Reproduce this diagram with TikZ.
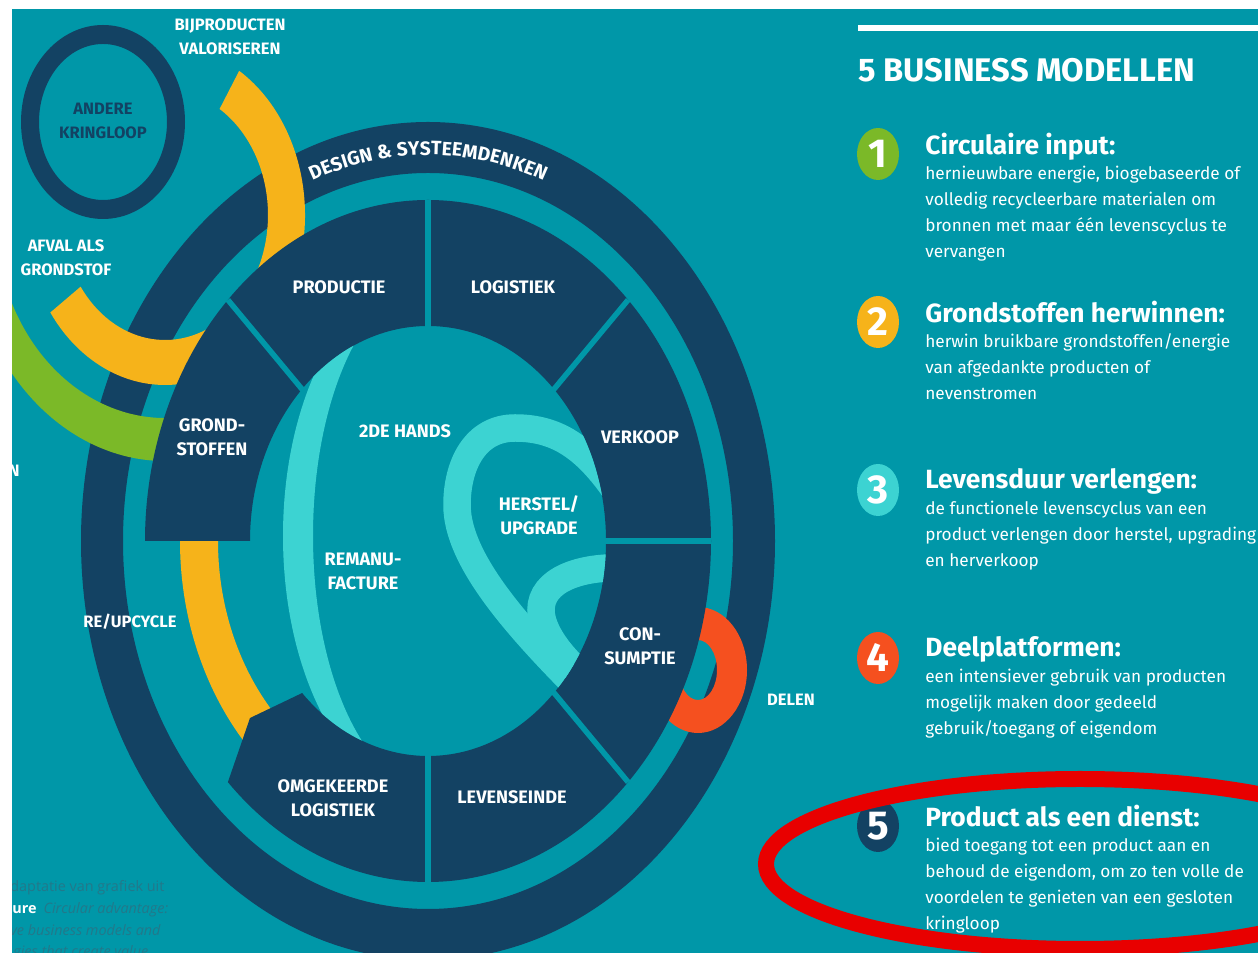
\documentclass[tikz,border=0pt]{standalone}
\usepackage{fontspec}
\setmainfont{Fira Sans}
\newfontfamily\notefont{Open Sans}
\usetikzlibrary{shapes.geometric,calc,decorations.text}
\definecolor{bgteal}{HTML}{0097A8}
\definecolor{navy}{HTML}{134263}
\definecolor{sun}{HTML}{F6B31A}
\definecolor{leaf}{HTML}{7BB928}
\definecolor{aqua}{HTML}{3CD3D2}
\definecolor{flame}{HTML}{F5501F}
\definecolor{marker}{HTML}{E80000}
\definecolor{faded}{HTML}{23788A}

\begin{document}
\begin{tikzpicture}
	[x=0.02cm,y=0.02cm,
	every node/.style={inner sep=0pt,text=white},
	seglabel/.style={font=\fontsize{10.3}{13.6}\selectfont\bfseries,align=center},
	outlabel/.style={font=\fontsize{9.4}{13.6}\selectfont\bfseries,align=center},
	badge/.style={ellipse,minimum width=0.84cm,minimum height=1.04cm,font=\fontsize{23}{23}\selectfont\bfseries},
	item/.style={anchor=north west,align=left,font=\fontsize{9.8}{14.7}\selectfont},
	note/.style={anchor=base west,text=faded,font=\notefont\fontsize{8.2}{9}\selectfont},
	gap/.style={draw=bgteal,line width=0.11cm},
	band/.style={draw=aqua,line width=0.55cm}]
	\useasboundingbox (0,0) rectangle (1258,953);
	\fill[bgteal] (0,0) rectangle (1258,953);
	\coordinate (C) at (428,412);
	\coordinate (G) at (165,738);
	\coordinate (K) at (103,831);
	\coordinate (D) at (698,283);

	\fill[navy,even odd rule] (C) ellipse[x radius=347,y radius=419] (C) ellipse[x radius=305,y radius=368];
	\fill[navy,even odd rule] (K) ellipse[x radius=82,y radius=97] (K) ellipse[x radius=64,y radius=78];
	\fill[leaf] ($(G)+(-155:200 and 246)$) arc[start angle=-155,end angle=-70,x radius=200,y radius=246]
		-- ($(G)+(-70:170 and 203)$) arc[start angle=-70,end angle=-155,x radius=170,y radius=203] -- cycle;
	\fill[sun] ($(G)+(58:140 and 170)$) arc[start angle=58,end angle=-145,x radius=140,y radius=170]
		-- ($(G)+(-145:103 and 125)$) arc[start angle=-145,end angle=58,x radius=103,y radius=125] -- cycle;
	\fill[flame,even odd rule] (D) ellipse[x radius=49,y radius=63] (D) ellipse[x radius=19,y radius=30];
	\fill[sun] ($(C)+(179:248 and 299)$) arc[start angle=179,end angle=232,x radius=248,y radius=299]
		-- ($(C)+(232:210 and 253)$) arc[start angle=232,end angle=179,x radius=210,y radius=253] -- cycle;
	\fill[navy] ($(C)+(-135:283 and 341)$) arc[start angle=-135,end angle=180,x radius=283,y radius=341]
		-- ($(C)+(180:178 and 215)$) arc[start angle=180,end angle=-135,x radius=178,y radius=215] -- (250,235) -- cycle;
	\foreach \a in {135,90,45,0,-45,-90}
		\draw[gap] (C) -- ++(\a:283 and 341);

	\begin{scope}
		\clip (C) ellipse[x radius=178,y radius=215];
		\begin{scope}
			\clip (0,0) rectangle (430,953);
			\fill[aqua,even odd rule] (430,417) ellipse[x radius=147,y radius=262] (434,417) ellipse[x radius=121,y radius=255];
		\end{scope}
		\draw[band] (625,448) .. controls (590,503) and (560,525) .. (515,525) .. controls (475,525) and (457,488) .. (457,448) .. controls (457,388) and (530,313) .. (595,248);
		\draw[band] (625,385) .. controls (580,387) and (541,373) .. (541,343) .. controls (541,323) and (560,295) .. (590,272);
	\end{scope}

	\path[decorate,decoration={text along path,text align=center,
		text={|\fontsize{11}{12}\selectfont\bfseries\color{white}|DESIGN {\&} SYSTEEMDENKEN}}]
		($(C)+(125:320 and 386)$) arc[start angle=125,end angle=55,x radius=320,y radius=386];

	\node[seglabel] (prod) at (339,666) {PRODUCTIE};
	\node[seglabel] (logi) at (513,666) {LOGISTIEK};
	\node[seglabel] (verk) at (640,516) {VERKOOP};
	\node[seglabel] (cons) at (640,307) {CON-\\SUMPTIE};
	\node[seglabel] (leven) at (512,156) {LEVENSEINDE};
	\node[seglabel] (omgek) at (333,155) {OMGEKEERDE\\LOGISTIEK};
	\node[seglabel] (grond) at (212,516) {GROND-\\STOFFEN};
	\node[seglabel] (hands) at (405,522) {2DE HANDS};
	\node[seglabel] (remanu) at (363,382) {REMANU-\\FACTURE};
	\node[seglabel] (herstel) at (539,438) {HERSTEL/\\UPGRADE};

	\node[outlabel] (bijprod) at (230,916) {BIJPRODUCTEN\\VALORISEREN};
	\node[outlabel,text=navy] (andere) at (103,832) {ANDERE\\KRINGLOOP};
	\node[outlabel] (afval) at (66,695) {AFVAL ALS\\GRONDSTOF};
	\node[outlabel] (reup) at (130,331) {RE/UPCYCLE};
	\node[outlabel] (delen) at (791,253) {DELEN};
	\node[outlabel,anchor=east] (n) at (20,482) {N};

	\node[note] (cap1) at (10,61) {daptatie van grafiek uit};
	\node[note] (cap2) at (12,39) {\textcolor{white}{\bfseries ure}\hspace{4pt}\itshape Circular advantage:};
	\node[note] (cap3) at (10,17) {\itshape ve business models and};
	\node[note] (cap4) at (13,-4) {\itshape gies that create value};

	\draw[white,line width=0.12cm] (858,925) -- (1258,925);
	\node[anchor=base west,font=\fontsize{18.6}{20}\selectfont\bfseries] (head) at (858,871) {5 BUSINESS MODELLEN};
	\foreach \k/\col/\head/\body in {
		1/leaf/{Circulaire input:}/{hernieuwbare energie, biogebaseerde of\\volledig recycleerbare materialen om\\bronnen met maar één levenscyclus te\\vervangen},
		2/sun/{Grondstoffen herwinnen:}/{herwin bruikbare grondstoffen/energie\\van afgedankte producten of\\nevenstromen},
		3/aqua/{Levensduur verlengen:}/{de functionele levenscyclus van een\\product verlengen door herstel, upgrading\\en herverkoop},
		4/flame/{Deelplatformen:}/{een intensiever gebruik van producten\\mogelijk maken door gedeeld\\gebruik/toegang of eigendom},
		5/navy/{Product als een dienst:}/{bied toegang tot een product aan en\\behoud de eigendom, om zo ten volle de\\voordelen te genieten van een gesloten\\kringloop}}
	{
		\node[badge,fill=\col] (b\k) at (878,{799-168*(\k-1)}) {\k};
		\node[item] (t\k) at (925,{820.6-168*(\k-1)}) {{\fontsize{15}{18}\selectfont\bfseries \head}\\\body};
	}

	\draw[marker,line width=0.32cm] (1080,89) ellipse[x radius=314,y radius=85];
	\fill[white] (0,944) rectangle (1258,953);
	\fill[white] (0,0) rectangle (12,944);
\end{tikzpicture}
\end{document}
